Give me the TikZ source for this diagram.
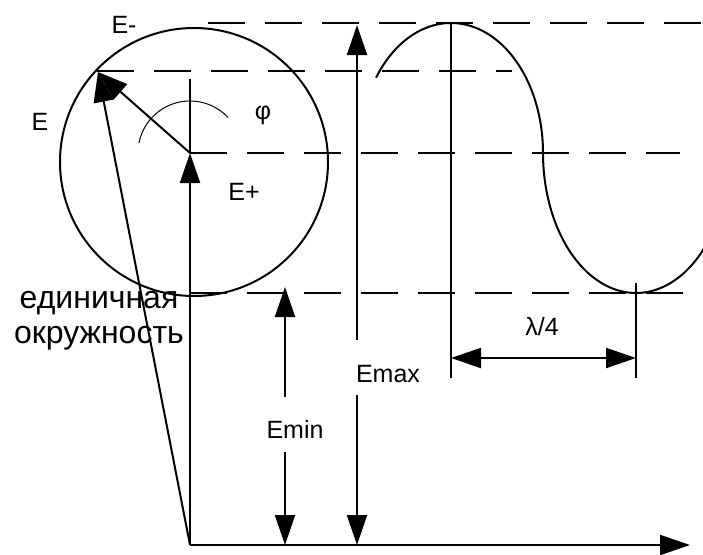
\documentclass[tikz,border=0pt]{standalone}
\usepackage{fontspec}
\setmainfont{Liberation Sans}
\usetikzlibrary{arrows.meta}
\begin{document}
\begin{tikzpicture}[x=1pt,y=-1pt,
  thick line/.style={line width=2pt},
  dashline/.style={line width=2pt, dash pattern=on 37pt off 20pt},
  arr/.style={line width=2pt, -{Triangle[length=30pt,width=20pt]}},
  dimarr/.style={line width=2pt, {Triangle[length=30pt,width=20pt]}-{Triangle[length=30pt,width=20pt]}},
  lbl/.style={inner sep=0pt, font=\fontsize{25}{30}\selectfont},
  biglbl/.style={inner sep=0pt, font=\fontsize{32}{34}\selectfont}]
\useasboundingbox (0,0) rectangle (703,554);
% key points
\coordinate (O) at (190,153);
\coordinate (B) at (190,545);
\coordinate (Etip) at (98,72);
\coordinate (Otop) at (190,79);
\coordinate (Xend) at (690,545);
\coordinate (C) at (194,162);
% dashed levels
\coordinate (d1a) at (208,23);  \coordinate (d1b) at (703,23);
\coordinate (d2a) at (97,71);   \coordinate (d2b) at (512,71);
\coordinate (d3a) at (190,153); \coordinate (d3b) at (680,153);
\coordinate (d4a) at (190,293); \coordinate (d4b) at (703,293);
\draw[dashline] (d1a) -- (d1b);
\draw[dashline] (d2a) -- (d2b);
\draw[dashline] (d3a) -- (d3b);
\draw[dashline] (d4a) -- (d4b);
% unit circle
\draw[thick line] (C) circle[radius=134pt];
% axes
\draw[thick line] (O) -- (Otop);
\draw[arr] (B) -- (O);
\draw[arr] (B) -- (Xend);
% vectors
\draw[arr] (B) -- (Etip);
\draw[arr] (O) -- (Etip);
% phi arc
\draw[line width=1pt] plot[domain=43:169,samples=60,smooth] ({190+52*cos(\x)},{153-52*sin(\x)});
% wave
\draw[thick line] plot[domain=215.4:360,samples=80,smooth] ({451+92*cos(\x)},{153+130*sin(\x)});
\draw[thick line] plot[domain=180:40,samples=80,smooth] ({636+93*cos(\x)},{153+140*sin(\x)});
% Emin
\node[lbl, anchor=base] (emin) at (295,438) {Emin};
\coordinate (m1) at (285,397); \coordinate (m1t) at (285,287);
\coordinate (m2) at (285,452); \coordinate (m2t) at (285,545);
\draw[arr] (m1) -- (m1t);
\draw[arr] (m2) -- (m2t);
% Emax
\node[lbl, anchor=base] (emax) at (388,382) {Emax};
\coordinate (x1) at (357,340); \coordinate (x1t) at (357,25);
\coordinate (x2) at (357,395); \coordinate (x2t) at (357,545);
\draw[arr] (x1) -- (x1t);
\draw[arr] (x2) -- (x2t);
% lambda/4
\coordinate (v1a) at (451,23);  \coordinate (v1b) at (451,378);
\coordinate (v2a) at (636,283); \coordinate (v2b) at (636,378);
\draw[thick line] (v1a) -- (v1b);
\draw[thick line] (v2a) -- (v2b);
\coordinate (l1) at (451,358); \coordinate (l2) at (636,358);
\draw[dimarr] (l1) -- (l2);
\node[lbl, anchor=base] (lam) at (542,335) {λ/4};
% labels
\node[lbl, anchor=base] (em) at (124,33) {E-};
\node[lbl, anchor=base] (e) at (40,130) {E};
\node[lbl] (phi) at (263,115) {φ};
\node[lbl, anchor=base] (ep) at (244,200) {E+};
\node[biglbl, anchor=base] (t1) at (99,308) {единичная};
\node[biglbl, anchor=base] (t2) at (99,343) {окружность};
\end{tikzpicture}
\end{document}
